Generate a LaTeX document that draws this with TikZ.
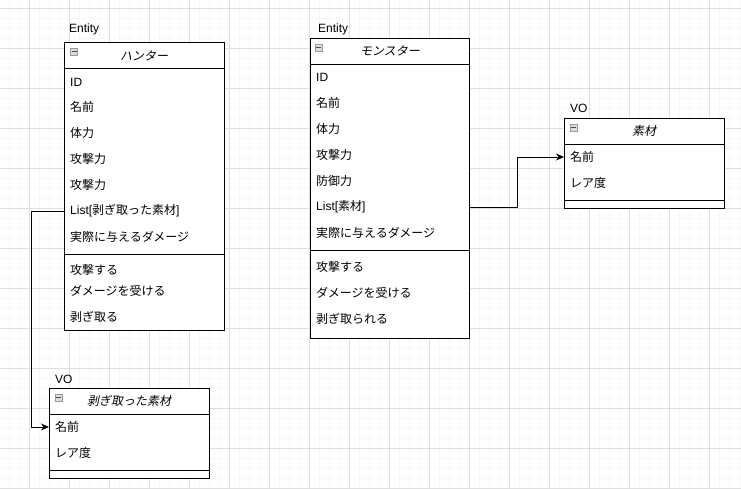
\documentclass[tikz,border=0pt]{standalone}
\usepackage{fontspec}
\setmainfont{Liberation Sans}
\newfontfamily\jp{Noto Sans CJK JP}
\newfontfamily\jpi[FakeSlant=0.2]{Noto Sans CJK JP}
\usetikzlibrary{arrows.meta}
\begin{document}
\begin{tikzpicture}[x=1pt,y=-1pt,
  box/.style={draw=black,line width=0.9pt,fill=white,rectangle,anchor=north west,inner sep=0pt,minimum width=#1},
  row/.style={anchor=west,inner xsep=6pt,inner ysep=0pt,font=\fontsize{12}{14}\selectfont},
  title/.style={font=\fontsize{12}{14}\selectfont\jpi,inner sep=0pt},
  stereo/.style={anchor=west,inner sep=0pt,font=\fontsize{12}{14}\selectfont},
  sep/.style={line width=0.9pt},
  conn/.style={line width=0.9pt,-{Stealth[length=8pt,width=7pt]}},
  icon/.style={draw=gray!80,fill=blue!10!gray!25,minimum size=7pt,inner sep=0pt,rectangle,line width=0.5pt},
  minus/.style={line width=0.7pt,black!70}
]
\useasboundingbox (0,0) rectangle (741,489);
\fill[white] (0,0) rectangle (741,489);
% grid
\foreach \x in {9,19,...,739} \draw[gray!6,line width=0.6pt] (\x,0) -- (\x,489);
\foreach \y in {8,18,...,488} \draw[gray!6,line width=0.6pt] (0,\y) -- (741,\y);
\foreach \x in {29,69,...,739} \draw[gray!25,line width=0.7pt] (\x,0) -- (\x,489);
\foreach \y in {8,48,...,488} \draw[gray!25,line width=0.7pt] (0,\y) -- (741,\y);

% ---------------- Hunter
\node[stereo] (hst) at (69,29) {Entity};
\node[box=160pt,minimum height=288pt] (hbox) at (64,42) {};
\draw[sep] (64,68) -- (224,68);
\draw[sep] (64,254) -- (224,254);
\node[icon] (hicon) at (74,51.5) {};
\draw[minus] (71.5,51.5) -- (76.5,51.5);
\node[title] (htitle) at (144,56) {ハンター};
\node[row] (h1) at (64,82) {ID};
\node[row] (h2) at (64,107) {\jp 名前};
\node[row] (h3) at (64,133) {\jp 体力};
\node[row] (h4) at (64,159) {\jp 攻撃力};
\node[row] (h5) at (64,185) {\jp 攻撃力};
\node[row] (h6) at (64,211) {List[{\jp 剥ぎ取った素材}]};
\node[row] (h7) at (64,237) {\jp 実際に与えるダメージ};
\node[row] (h8) at (64,270) {\jp 攻撃する};
\node[row] (h9) at (64,291) {\jp ダメージを受ける};
\node[row] (h10) at (64,317) {\jp 剥ぎ取る};

% ---------------- Monster
\node[stereo] (mst) at (318,29) {Entity};
\node[box=159pt,minimum height=300pt] (mbox) at (310,38) {};
\draw[sep] (310,64) -- (469,64);
\draw[sep] (310,250) -- (469,250);
\node[icon] (micon) at (318.5,47.5) {};
\draw[minus] (316,47.5) -- (321,47.5);
\node[title] (mtitle) at (390,51) {モンスター};
\node[row] (m1) at (310,77) {ID};
\node[row] (m2) at (310,103) {\jp 名前};
\node[row] (m3) at (310,129) {\jp 体力};
\node[row] (m4) at (310,155) {\jp 攻撃力};
\node[row] (m5) at (310,181) {\jp 防御力};
\node[row] (m6) at (310,207) {List[{\jp 素材}]};
\node[row] (m7) at (310,233) {\jp 実際に与えるダメージ};
\node[row] (m8) at (310,267) {\jp 攻撃する};
\node[row] (m9) at (310,293) {\jp ダメージを受ける};
\node[row] (m10) at (310,319) {\jp 剥ぎ取られる};

% ---------------- Sozai VO
\node[stereo] (sst) at (570,108) {VO};
\node[box=160pt,minimum height=90pt] (sbox) at (564,118) {};
\draw[sep] (564,144) -- (724,144);
\draw[sep] (564,200) -- (724,200);
\node[icon] (sicon) at (573.5,127.5) {};
\draw[minus] (571,127.5) -- (576,127.5);
\node[title] (stitle) at (644,131) {素材};
\node[row] (s1) at (564,157) {\jp 名前};
\node[row] (s2) at (564,183) {\jp レア度};

% ---------------- Hagitotta sozai VO
\node[stereo] (pst) at (55,379) {VO};
\node[box=160pt,minimum height=90pt] (pbox) at (49,388) {};
\draw[sep] (49,414) -- (209,414);
\draw[sep] (49,470) -- (209,470);
\node[icon] (picon) at (58.5,397.5) {};
\draw[minus] (56,397.5) -- (61,397.5);
\node[title] (ptitle) at (129,401) {剥ぎ取った素材};
\node[row] (p1) at (49,427) {\jp 名前};
\node[row] (p2) at (49,453) {\jp レア度};

% ---------------- connectors
\coordinate (mout) at (mbox.east |- m6);
\draw[conn] (mout) -- (517,207) -- (517,157) -- (s1.west);
\draw[conn] (h6.west) -- (31,211) -- (31,427) -- (p1.west);
\end{tikzpicture}
\end{document}
